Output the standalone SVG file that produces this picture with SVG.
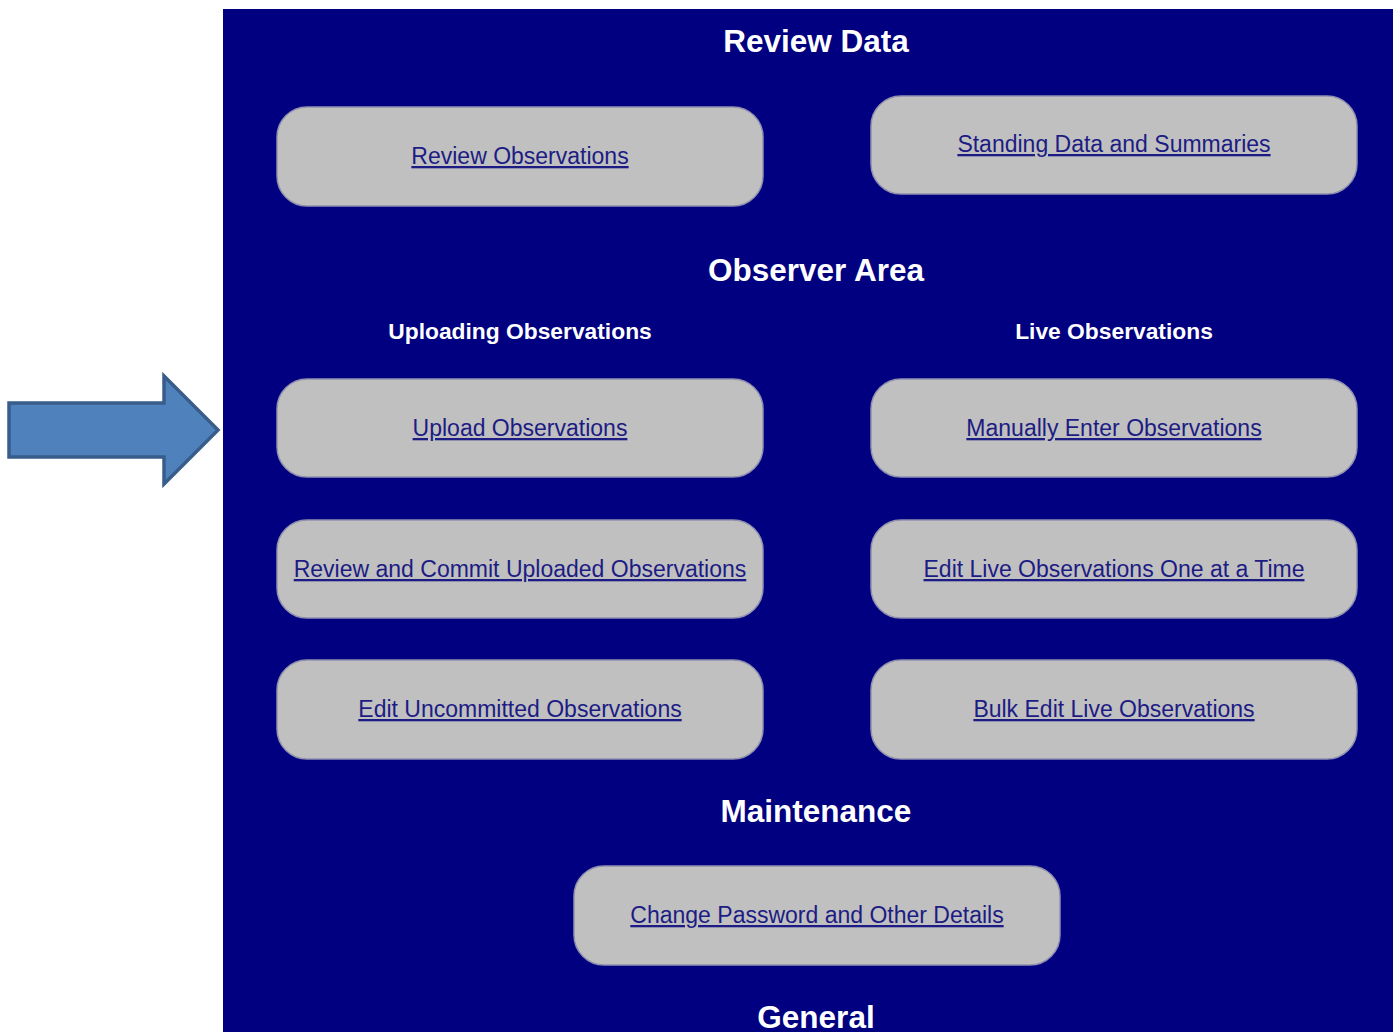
<svg xmlns="http://www.w3.org/2000/svg" width="1393" height="1032" viewBox="0 0 1393 1032">
<style>
.bg{fill:#000080}
.box{fill:#C0C0C0;stroke:#9090B0;stroke-width:1.5}
.lnk{font-family:"Liberation Sans",Arial,sans-serif;font-size:23px;fill:#1C1C84;text-anchor:middle;text-decoration:underline}
.h1{font-family:"Liberation Sans",Arial,sans-serif;font-size:31.5px;font-weight:bold;fill:#FFFFFF;text-anchor:middle}
.h2{font-family:"Liberation Sans",Arial,sans-serif;font-size:22.8px;font-weight:bold;fill:#FFFFFF;text-anchor:middle}
</style>
<rect x="0" y="0" width="1393" height="1032" fill="#FFFFFF"/>
<rect class="bg" x="223" y="9" width="1170" height="1023"/>
<g id="arrow">
<polygon points="9,403 164,403 164,376 218,430 164,484 164,457 9,457" fill="#4F81BD" stroke="#385D8A" stroke-width="3.5" stroke-linejoin="miter"/>
</g>
<g id="headings">
<text class="h1" x="816" y="52">Review Data</text>
<text class="h1" x="816" y="281">Observer Area</text>
<text class="h2" x="520" y="339">Uploading Observations</text>
<text class="h2" x="1114" y="339">Live Observations</text>
<text class="h1" x="816" y="822">Maintenance</text>
<text class="h1" x="816" y="1028">General</text>
</g>
<g id="review-observations"><rect class="box" x="277" y="107" width="486" height="99" rx="30"/><text class="lnk" x="520" y="164">Review Observations</text></g>
<g id="standing-data"><rect class="box" x="871" y="96" width="486" height="98" rx="30"/><text class="lnk" x="1114" y="152">Standing Data and Summaries</text></g>
<g id="upload-observations"><rect class="box" x="277" y="379" width="486" height="98" rx="30"/><text class="lnk" x="520" y="436">Upload Observations</text></g>
<g id="manually-enter"><rect class="box" x="871" y="379" width="486" height="98" rx="30"/><text class="lnk" x="1114" y="436">Manually Enter Observations</text></g>
<g id="review-commit"><rect class="box" x="277" y="520" width="486" height="98" rx="30"/><text class="lnk" x="520" y="577">Review and Commit Uploaded Observations</text></g>
<g id="edit-live"><rect class="box" x="871" y="520" width="486" height="98" rx="30"/><text class="lnk" x="1114" y="577">Edit Live Observations One at a Time</text></g>
<g id="edit-uncommitted"><rect class="box" x="277" y="660" width="486" height="99" rx="30"/><text class="lnk" x="520" y="717">Edit Uncommitted Observations</text></g>
<g id="bulk-edit"><rect class="box" x="871" y="660" width="486" height="99" rx="30"/><text class="lnk" x="1114" y="717">Bulk Edit Live Observations</text></g>
<g id="change-password"><rect class="box" x="574" y="866" width="486" height="99" rx="30"/><text class="lnk" x="817" y="923">Change Password and Other Details</text></g>
<g id="connectors"></g>
</svg>
